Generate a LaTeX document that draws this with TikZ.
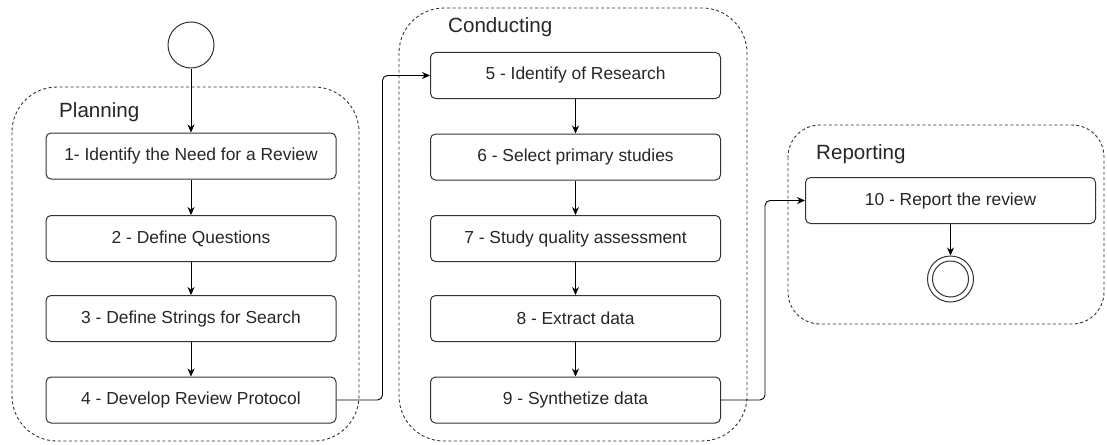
\documentclass[tikz,border=0pt]{standalone}
\usepackage{fontspec}
\setmainfont{Liberation Sans}
\usetikzlibrary{arrows.meta}
\begin{document}
\begin{tikzpicture}[x=1pt,y=-1pt,
  container/.style={draw=black!80, line width=0.9pt, dash pattern=on 3pt off 2.5pt},
  stepbox/.style={draw=black!80, line width=1pt, rounded corners=5pt, minimum width=290pt, minimum height=46pt, inner sep=0pt, font=\fontsize{17.4}{19}\selectfont, text=black!85},
  grouplabel/.style={anchor=base west, inner sep=0pt, font=\fontsize{20.6}{22}\selectfont, text=black!85},
  conn/.style={draw=black, line width=0.9pt, -{Stealth[length=8pt,width=7pt]}},
  startev/.style={circle, draw=black!80, line width=1pt, minimum size=46pt, inner sep=0pt}
]
\useasboundingbox (0,0) rectangle (1107,444);

% containers
\draw[container, rounded corners=45pt] (12,87) rectangle (359,441);
\draw[container, rounded corners=45pt] (399,8) rectangle (747,441);
\draw[container, rounded corners=32pt] (788,125) rectangle (1104,324);

\node[grouplabel] (lplan) at (59,117) {Planning};
\node[grouplabel] (lcond) at (448,33) {Conducting};
\node[grouplabel] (lrep) at (816,159) {Reporting};

% start
\node[startev] (start) at (191,45) {};

% planning boxes
\node[stepbox] (b1) at (191,156) {1- Identify the Need for a Review};
\node[stepbox] (b2) at (191,238.5) {2 - Define Questions};
\node[stepbox] (b3) at (191,318.5) {3 - Define Strings for Search};
\node[stepbox] (b4) at (191,400) {4 - Develop Review Protocol};

% conducting boxes
\node[stepbox] (b5) at (575.5,75.5) {5 - Identify of Research};
\node[stepbox] (b6) at (575.5,157) {6 - Select primary studies};
\node[stepbox] (b7) at (575.5,238.5) {7 - Study quality assessment};
\node[stepbox] (b8) at (575.5,318.5) {8 - Extract data};
\node[stepbox] (b9) at (575.5,400) {9 - Synthetize data};

% reporting
\node[stepbox] (b10) at (950.5,200.5) {10 - Report the review};
\node[startev] (endev) at (950.5,279) {};
\node[circle, draw=black!80, line width=1pt, minimum size=36pt, inner sep=0pt] (endin) at (endev.center) {};

% connectors
\draw[conn] (start) -- (b1);
\draw[conn] (b1) -- (b2);
\draw[conn] (b2) -- (b3);
\draw[conn] (b3) -- (b4);
\draw[conn, rounded corners=5pt] (b4.east) -- ++(46,0) |- (b5.west);
\draw[conn] (b5) -- (b6);
\draw[conn] (b6) -- (b7);
\draw[conn] (b7) -- (b8);
\draw[conn] (b8) -- (b9);
\draw[conn, rounded corners=5pt] (b9.east) -- ++(44,0) |- (b10.west);
\draw[conn] (b10) -- (endev);
\end{tikzpicture}
\end{document}
